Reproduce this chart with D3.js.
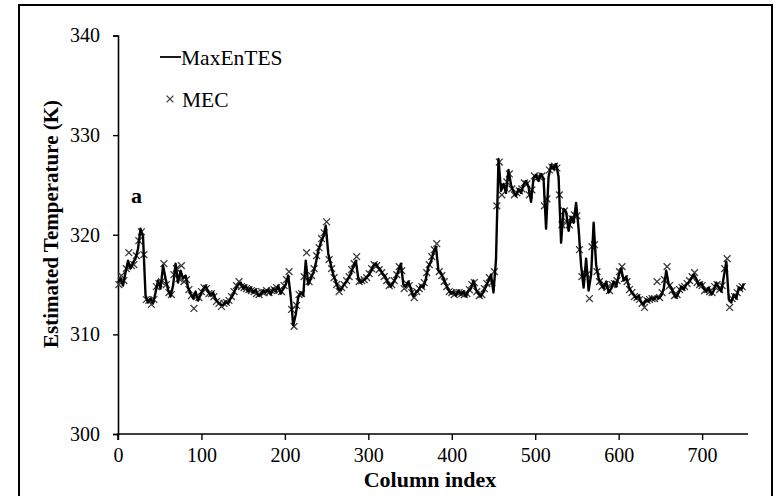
<!DOCTYPE html>
<html>
<head>
<meta charset="utf-8">
<script src="https://cdn.jsdelivr.net/npm/d3@7"></script>
<style>
  html, body { margin: 0; padding: 0; background: #fff; }
  svg text { font-family: "Liberation Serif", "Times New Roman", serif; fill: #000; }
</style>
</head>
<body>
<div class="graph"></div>
<script>
// column index ticks / y ticks
const xTicks = [0, 100, 200, 300, 400, 500, 600, 700]
const yTicks = [300, 310, 320, 330, 340]

// MaxEnTES line, every 3rd column starting at 0
const maxEnTES = [
  315.2, 315.6, 314.9, 316.2, 317.4, 316.6, 317.2, 317.6, 318.6, 320.6,
  319.8, 313.9, 313.2, 313.6, 313.1, 314.2, 315.4, 314.6, 316.9, 315.6,
  314.5, 313.8, 314.9, 317.1, 315.2, 316.4, 315.6, 315.9, 314.7, 314.1,
  313.6, 314.3, 313.4, 314.0, 314.5, 314.9, 314.3, 313.9, 314.2, 313.5,
  313.2, 313.0, 312.9, 313.3, 313.1, 313.6, 314.0, 314.6, 315.0, 315.2,
  314.6, 314.9, 314.3, 314.7, 314.2, 314.5, 313.9, 314.0, 314.4, 314.2,
  314.5, 314.0, 314.6, 314.3, 314.9, 314.1, 314.6, 315.0, 315.9, 313.8,
  310.9, 312.0, 313.7, 314.2, 313.9, 317.4, 315.0, 315.6, 316.2, 317.1,
  318.4, 319.2, 319.8, 320.9, 318.1, 317.0, 316.0, 315.3, 314.6, 314.4,
  314.9, 315.2, 315.6, 316.1, 316.8, 317.4, 315.6, 315.2, 315.4, 315.6,
  315.9, 316.3, 316.9, 317.1, 316.7, 316.4, 316.0, 315.7, 315.1, 314.8,
  315.2, 315.7, 316.4, 317.1, 315.0, 314.8, 315.3, 314.6, 313.8, 314.2,
  314.4, 314.9, 314.7, 315.6, 316.8, 317.3, 318.2, 318.8, 316.4, 316.2,
  315.6, 315.0, 314.5, 314.1, 314.3, 313.9, 314.4, 314.0, 314.3, 313.8,
  314.4, 314.6, 315.4, 314.5, 314.1, 313.8, 314.3, 314.8, 315.4, 316.0,
  314.2, 317.5, 327.6, 324.4, 325.1, 324.2, 326.5, 325.0, 324.3, 323.9,
  324.6, 324.2, 325.0, 325.4, 324.8, 323.3, 325.7, 326.0, 325.4, 326.1,
  325.6, 320.6, 325.8, 327.0, 326.6, 327.1, 325.8, 319.2, 322.6, 322.3,
  320.4, 321.8, 321.2, 323.2, 320.6, 316.9, 314.7, 317.6, 314.4, 316.0,
  321.2, 317.0, 315.6, 315.1, 314.6, 315.3, 314.2, 314.6, 315.3, 314.8,
  315.9, 316.6, 315.4, 315.8, 314.8, 314.3, 314.0, 313.6, 313.9, 313.2,
  313.0, 313.5, 313.3, 313.7, 313.5, 313.8, 313.6, 313.9, 314.6, 316.4,
  315.0, 314.7, 314.1, 313.7, 314.2, 314.8, 314.5, 315.0, 315.2, 315.6,
  316.0, 315.6, 314.9, 315.2, 314.6, 314.3, 314.7, 314.0, 314.4, 315.2,
  314.7, 314.3, 315.8, 317.3, 313.5, 313.2, 314.0, 313.6, 314.7, 314.5,
  315.1
]

// MEC markers, every 3rd column starting at 1
const mec = [
  315.0, 315.9, 315.4, 316.6, 318.2, 316.9, 317.0, 317.9, 319.4, 320.3,
  318.0, 313.5, 313.4, 313.0, 313.5, 314.8, 315.1, 315.3, 317.1, 315.0,
  314.2, 314.0, 316.0, 316.6, 315.6, 316.9, 315.3, 315.5, 314.5, 313.9,
  312.6, 313.8, 313.7, 314.3, 314.7, 314.6, 314.1, 314.1, 313.8, 313.3,
  313.1, 312.8, 313.1, 313.2, 313.4, 313.8, 314.3, 314.9, 315.3, 314.8,
  314.7, 314.6, 314.5, 314.4, 314.3, 314.1, 314.0, 314.3, 314.2, 314.4,
  314.2, 314.4, 314.5, 314.7, 314.4, 314.3, 314.9, 315.5, 316.3, 312.5,
  310.8, 312.9, 314.0, 314.1, 315.8, 318.2, 315.3, 315.9, 316.6, 317.9,
  318.7, 319.6, 320.2, 321.3, 317.5, 316.6, 315.7, 315.0, 314.3, 314.7,
  315.0, 315.4, 315.8, 316.5, 317.1, 317.8, 315.3, 315.4, 315.5, 315.7,
  316.1, 316.6, 317.0, 316.9, 316.5, 316.2, 315.8, 315.4, 314.9, 315.0,
  315.4, 316.0, 316.8, 316.4, 314.6, 315.1, 314.9, 314.2, 313.7, 314.3,
  314.6, 314.8, 315.2, 316.2, 317.0, 317.8, 318.5, 319.1, 316.3, 315.9,
  315.3, 314.8, 314.3, 314.2, 314.0, 314.2, 314.2, 314.1, 314.0, 314.1,
  314.5, 315.0, 315.2, 314.3, 313.9, 314.0, 314.6, 315.1, 315.7, 315.2,
  316.3, 322.9, 327.3, 324.0, 324.8, 325.3, 326.1, 324.6, 324.0, 324.2,
  324.4, 324.6, 325.2, 325.1, 324.0, 324.5, 325.9, 325.7, 325.8, 325.9,
  322.9, 323.6, 326.5, 326.8, 326.9, 326.7, 324.0, 321.0, 322.4, 321.3,
  321.0, 321.6, 322.0, 321.9, 318.5, 315.8, 316.2, 316.0, 313.6, 318.8,
  319.0, 316.3, 315.3, 314.8, 315.0, 314.7, 314.4, 315.0, 315.1, 315.4,
  316.3, 316.8, 315.6, 315.3, 314.5, 314.2, 313.8, 313.7, 313.5, 313.1,
  312.7, 313.4, 313.5, 313.6, 313.6, 315.3, 313.7, 314.2, 315.5, 316.8,
  314.9, 314.4, 313.9, 314.0, 314.5, 314.7, 314.8, 315.1, 315.4, 315.8,
  316.2, 315.2, 315.0, 314.9, 314.4, 314.5, 314.3, 314.2, 314.8, 315.0,
  314.5, 314.9, 316.6, 317.6, 312.7, 313.6, 313.8, 314.2, 314.6, 314.8
]

const W = 779, H = 496

const svg = d3.select('.graph')
  .append('svg')
  .attr('width', W)
  .attr('height', H)

// outer frame
svg.append('rect')
  .attr('x', 19).attr('y', 5)
  .attr('width', 753).attr('height', 500)
  .attr('fill', 'none')
  .attr('stroke', '#000')
  .attr('stroke-width', 2)

const x = d3.scaleLinear().domain([0, 755]).range([118, 748])
const y = d3.scaleLinear().domain([300, 340]).range([434, 35.5])

//y axis
const gy = svg.append('g')
  .attr('transform', 'translate(118,0)')
  .call(d3.axisLeft(y).tickValues(yTicks).tickSize(5).tickPadding(13).tickFormat(d3.format('d')))
//x axis
const gx = svg.append('g')
  .attr('transform', 'translate(0,434)')
  .call(d3.axisBottom(x).tickValues(xTicks).tickSize(6).tickPadding(8).tickFormat(d3.format('d')))

;[gx, gy].forEach(g => {
  g.select('.domain').attr('stroke', '#000').attr('stroke-width', 1.6)
  g.selectAll('.tick line').attr('stroke', '#000').attr('stroke-width', 1.4)
  g.selectAll('.tick text')
    .attr('font-family', '"Liberation Serif", serif')
    .attr('font-size', 20)
    .attr('fill', '#000')
})
// x axis extends past the last tick
gx.select('.domain').attr('d', `M${x(0)},6V0H${x(755)}`)

const lineData = maxEnTES.map((v, i) => ({ col: i * 3, v }))
const mecData = mec.map((v, i) => ({ col: 1 + i * 3, v }))

// MEC markers
const cross = d3.symbol().type(d3.symbolTimes).size(32)
svg.append('g')
  .selectAll('path')
  .data(mecData)
  .enter()
  .append('path')
  .attr('d', cross)
  .attr('transform', d => `translate(${x(d.col)},${y(d.v)})`)
  .attr('fill', 'none')
  .attr('stroke', '#3c3c3c')
  .attr('stroke-width', 1.3)

// MaxEnTES line
svg.append('path')
  .datum(lineData)
  .attr('fill', 'none')
  .attr('stroke', '#000')
  .attr('stroke-width', 2.4)
  .attr('stroke-linejoin', 'round')
  .attr('d', d3.line().x(d => x(d.col)).y(d => y(d.v)))

// axis titles
svg.append('text')
  .attr('x', 430).attr('y', 487)
  .attr('text-anchor', 'middle')
  .attr('font-size', 22).attr('font-weight', 'bold')
  .text('Column index')
svg.append('text')
  .attr('transform', 'translate(58,224) rotate(-90)')
  .attr('text-anchor', 'middle')
  .attr('font-size', 21).attr('font-weight', 'bold')
  .text('Estimated Temperature (K)')

// panel label
svg.append('text')
  .attr('x', 131).attr('y', 203)
  .attr('font-size', 22).attr('font-weight', 'bold')
  .text('a')

// legend
svg.append('line')
  .attr('x1', 160).attr('x2', 181)
  .attr('y1', 57).attr('y2', 57)
  .attr('stroke', '#000').attr('stroke-width', 1.8)
svg.append('text')
  .attr('x', 181).attr('y', 65)
  .attr('font-size', 21.5)
  .text('MaxEnTES')
svg.append('path')
  .attr('d', cross)
  .attr('transform', 'translate(170,99)')
  .attr('fill', 'none').attr('stroke', '#3c3c3c').attr('stroke-width', 1.3)
svg.append('text')
  .attr('x', 182).attr('y', 107)
  .attr('font-size', 21.5)
  .text('MEC')
</script>
</body>
</html>
